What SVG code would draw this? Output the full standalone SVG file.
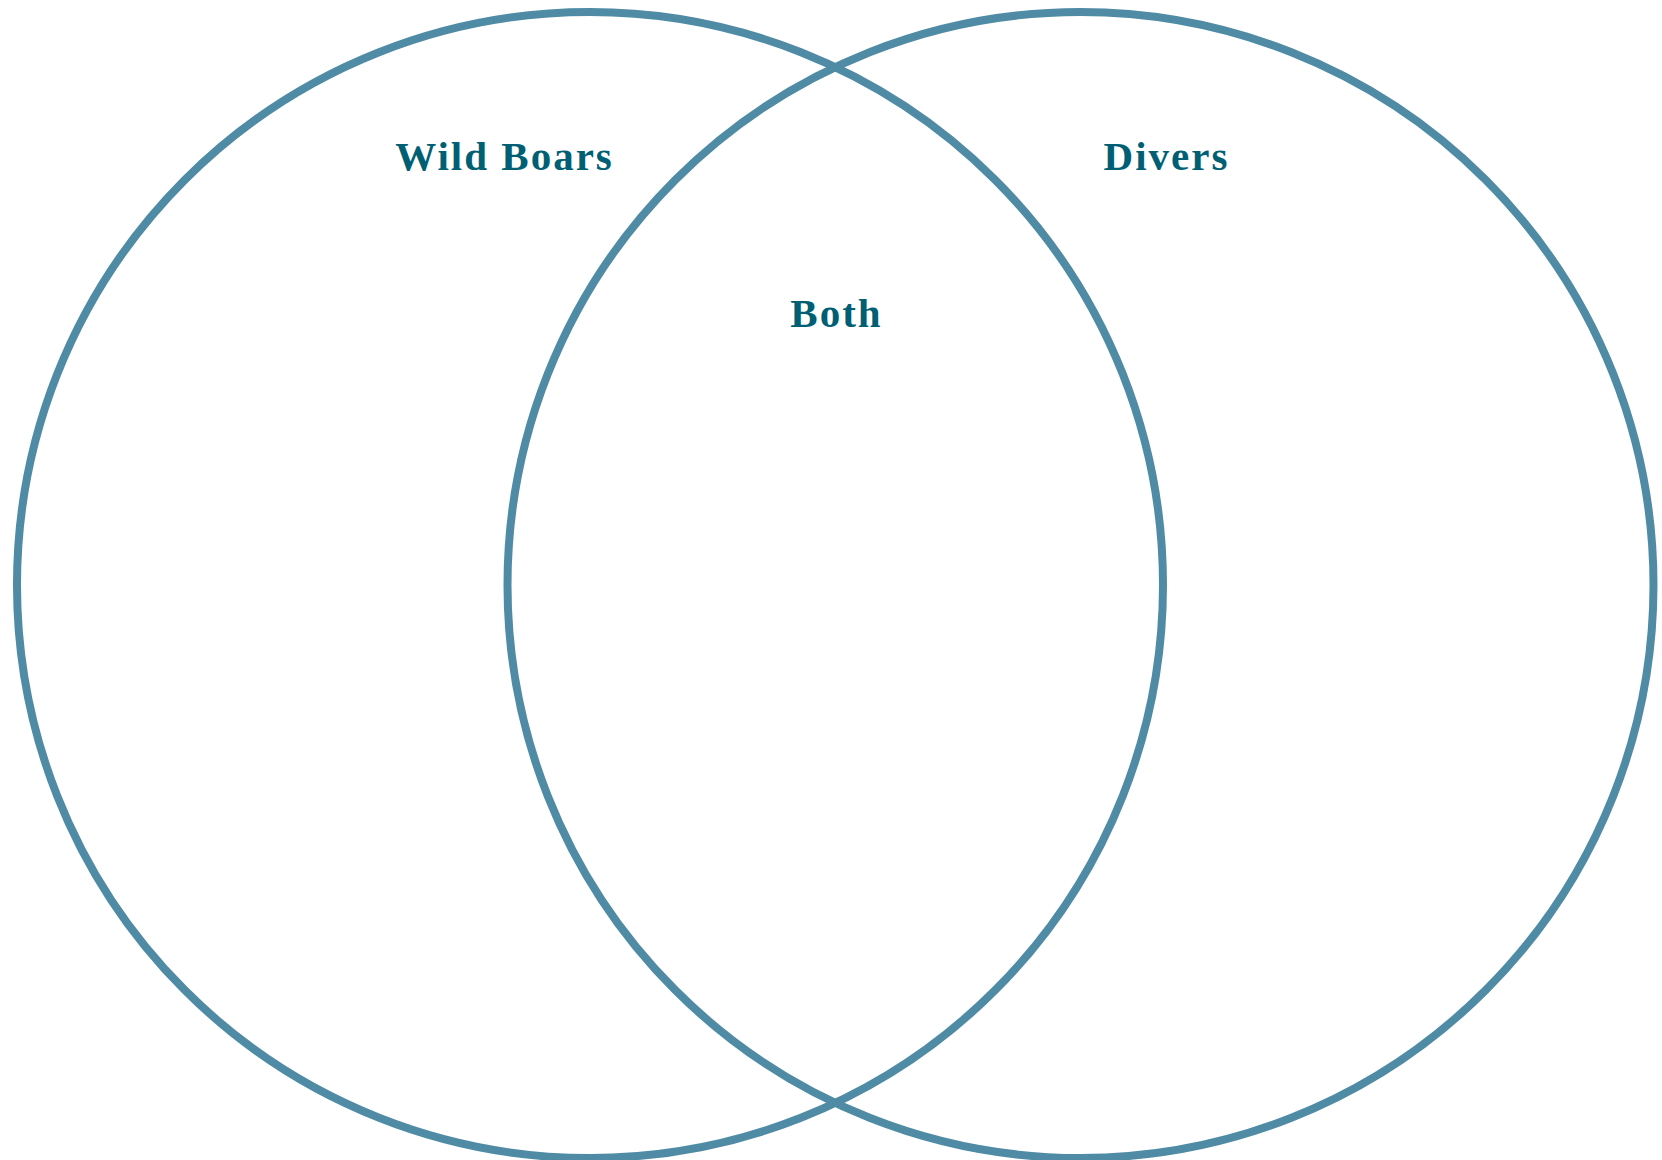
<svg xmlns="http://www.w3.org/2000/svg" width="1662" height="1160" viewBox="0 0 1662 1160">
<style>
.set{fill:none;stroke:#4f8ba5;stroke-width:8}
.lbl{font-family:"Liberation Serif","Times New Roman",serif;font-weight:bold;font-size:41px;fill:#015f74;letter-spacing:2px;text-anchor:middle}
</style>
<rect width="1662" height="1160" fill="#ffffff"/>
<g id="set-wild-boars">
<circle class="set" cx="590" cy="585" r="573"/>
<text class="lbl" x="504.5" y="170">Wild Boars</text>
</g>
<g id="set-divers">
<circle class="set" cx="1080.5" cy="585" r="573"/>
<text class="lbl" x="1166.5" y="170">Divers</text>
</g>
<g id="set-both">
<text class="lbl" x="836.5" y="327">Both</text>
</g>
<g id="connectors"></g>
</svg>
